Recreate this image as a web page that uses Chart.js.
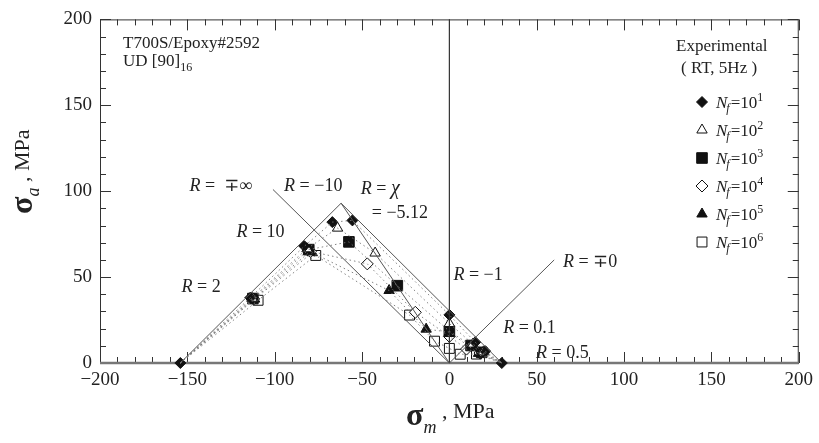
<!DOCTYPE html>
<html>
<head>
<meta charset="utf-8">
<script src="https://cdn.jsdelivr.net/npm/chart.js@4.4.1/dist/chart.umd.min.js"></script>
<style>
  html, body { margin: 0; padding: 0; background: #fff; }
  #wrap { width: 819px; height: 443px; }
</style>
</head>
<body>
<div id="wrap"><canvas id="chart" width="819" height="443"></canvas></div>
<script>
// static strengths (compression, tension), sigma_a = 0
var staticSm = [-154, 30];
var staticSa = [0, 0];

// test series, ordered by R = 2, 10, -10, chi, -1, 0.1, 0.5
var rLabels = ['2', '10', '-10', 'χ', '-1', '0.1', '0.5'];

var nf1Sm = [-114, -83, -67, -55.5, 0, 14.8, 20.5];
var nf1Sa = [38, 68, 82, 83, 28, 12.1, 6.9];
var nf2Sm = [-113, -81.5, -64, -42.5, 0, 13.5, 19.5];
var nf2Sa = [37.7, 66.5, 78.5, 64, 23, 11, 6.5];
var nf3Sm = [-112.5, -80.5, -57.5, -29.8, 0, 12.4, 18.5];
var nf3Sa = [37.5, 66, 70.5, 45, 18.5, 10.2, 6.2];
var nf4Sm = [-112, -79.5, -47, -19.5, 0, 9.8, 17.5];
var nf4Sa = [37.3, 65, 57.7, 29.5, 15.5, 8.1, 5.8];
var nf5Sm = [-111.5, -78.5, -34.5, -13.3, 0, 11.5, 16.7];
var nf5Sa = [37.2, 64.2, 42.2, 19.7, 18, 9.4, 5.6];
var nf6Sm = [-109.5, -76.5, -22.8, -8.5, 0, 6.2, 15.5];
var nf6Sa = [36.5, 62.6, 27.9, 12.7, 8.5, 5.1, 5.2];
var nfExp = ['1', '2', '3', '4', '5', '6'];

// envelope and R = const lines
var envSm = [-154, -62, 30];
var envSa = [0, 93, 0];
var rInfSm = [0, -101];   // R = -+inf
var rInfSa = [0, 101];
var rChiSm = [0, -62];    // R = chi
var rChiSa = [0, 93];
var rM1Sm = [0, 0];       // R = -1
var rM1Sa = [0, 200];
var rZeroSm = [0, 60];    // R = -+0
var rZeroSa = [0, 60];

var xTicks = [-200, 200, 50];
var yTicks = [0, 200, 50];

var SERIF = '"Liberation Serif", "DejaVu Serif", serif';
var INK = '#222';

var marks = [
  { style: 'rectRot', fill: '#111', r: 5.5 },
  { style: 'triangle', fill: '#fff', r: 6 },
  { style: 'rect', fill: '#111', r: 7.5 },
  { style: 'rectRot', fill: '#fff', r: 6 },
  { style: 'triangle', fill: '#111', r: 6 },
  { style: 'rect', fill: '#fff', r: 7 }
];

function pts(xs, ys) {
  return xs.map(function(x, i) { return { x: x, y: ys[i] }; });
}

function lineSet(xs, ys, color, width, dash) {
  return {
    type: 'line', data: pts(xs, ys), showLine: true, clip: false,
    borderColor: color, borderWidth: width, borderDash: dash || [],
    pointRadius: 0, fill: false, tension: 0
  };
}

var nfSm = [nf1Sm, nf2Sm, nf3Sm, nf4Sm, nf5Sm, nf6Sm];
var nfSa = [nf1Sa, nf2Sa, nf3Sa, nf4Sa, nf5Sa, nf6Sa];

var datasets = [];
// constant life lines (dotted)
nfSm.forEach(function(sm, i) {
  var xs = [staticSm[0]].concat(sm, [staticSm[1]]);
  var ys = [staticSa[0]].concat(nfSa[i], [staticSa[1]]);
  datasets.push(lineSet(xs, ys, '#777', 0.9, [1.5, 3]));
});
datasets.push(lineSet(envSm, envSa, '#555', 1));
datasets.push(lineSet(rInfSm, rInfSa, '#555', 1));
datasets.push(lineSet(rChiSm, rChiSa, '#555', 1));
datasets.push(lineSet(rM1Sm, rM1Sa, '#333', 1.2));
datasets.push(lineSet(rZeroSm, rZeroSa, '#555', 1));

datasets.push({
  data: pts(staticSm, staticSa), clip: false,
  pointStyle: 'rectRot', pointRadius: 5.5,
  pointBackgroundColor: '#111', pointBorderColor: '#111', pointBorderWidth: 1
});
nfSm.forEach(function(sm, i) {
  var m = marks[i];
  datasets.push({
    data: pts(sm, nfSa[i]), clip: false,
    pointStyle: m.style, pointRadius: m.r,
    pointBackgroundColor: m.fill, pointBorderColor: '#111', pointBorderWidth: 1
  });
});

function fmt(v) {
  return v < 0 ? '\u2212' + Math.abs(v) : '' + v;
}

// annotations in data coordinates
var notes = [
  { r: true, txt: ' =  \u2213\u221e', x: -148.7, y: 100 },
  { r: true, txt: ' = \u221210', x: -94.6, y: 100 },
  { r: true, txt: ' = ', chi: true, x: -50.7, y: 98.3 },
  { r: false, txt: '= \u22125.12', x: -44.4, y: 84.4 },
  { r: true, txt: ' = 10', x: -121.9, y: 73.4 },
  { r: true, txt: ' = 2', x: -153.3, y: 41.6 },
  { r: true, txt: ' = \u22121', x: 2.3, y: 48.6 },
  { r: true, txt: ' = \u22130', x: 65, y: 56 },
  { r: true, txt: ' = 0.1', x: 30.8, y: 17.3 },
  { r: true, txt: ' = 0.5', x: 49.6, y: 2.9 }
];

function drawMark(ctx, m, x, y) {
  ctx.save();
  ctx.fillStyle = m.fill;
  ctx.strokeStyle = '#111';
  ctx.lineWidth = 1;
  Chart.helpers.drawPoint(ctx, { pointStyle: m.style, radius: m.r, rotation: 0, borderWidth: 1 }, x, y);
  ctx.restore();
}

var framePlugin = {
  id: 'frame',
  beforeDatasetsDraw: function(chart) {
    var ctx = chart.ctx, a = chart.chartArea;
    var xs = chart.scales.x, ys = chart.scales.y;
    ctx.save();
    ctx.strokeStyle = '#333';
    ctx.lineWidth = 1;
    ctx.strokeRect(a.left + 0.5, a.top + 0.5, a.right - a.left - 1, a.bottom - a.top);
    ctx.beginPath();
    for (var v = -200; v <= 200; v += 10) {
      var px = Math.round(xs.getPixelForValue(v)) + 0.5;
      var len = v % 50 === 0 ? 11 : 6;
      ctx.moveTo(px, a.bottom); ctx.lineTo(px, a.bottom - len);
      ctx.moveTo(px, a.top); ctx.lineTo(px, a.top + len);
    }
    for (var w = 0; w <= 200; w += 10) {
      var py = Math.round(ys.getPixelForValue(w)) + 0.5;
      var l2 = w % 50 === 0 ? 11 : 6;
      ctx.moveTo(a.left, py); ctx.lineTo(a.left + l2, py);
      ctx.moveTo(a.right, py); ctx.lineTo(a.right - l2, py);
    }
    ctx.stroke();
    ctx.strokeStyle = '#777';
    ctx.lineWidth = 2.5;
    ctx.beginPath();
    ctx.moveTo(a.left, a.bottom); ctx.lineTo(a.right, a.bottom);
    ctx.stroke();
    ctx.restore();
  },
  afterDraw: function(chart) {
    var ctx = chart.ctx;
    var xs = chart.scales.x, ys = chart.scales.y;
    ctx.save();
    ctx.fillStyle = INK;
    ctx.textBaseline = 'alphabetic';
    ctx.textAlign = 'left';

    // R labels
    notes.forEach(function(n) {
      var x = xs.getPixelForValue(n.x), y = ys.getPixelForValue(n.y);
      if (n.r) {
        ctx.font = 'italic 18px ' + SERIF;
        ctx.fillText('R', x, y);
        x += ctx.measureText('R').width;
      }
      ctx.font = '18px ' + SERIF;
      ctx.fillText(n.txt, x, y);
      if (n.chi) {
        x += ctx.measureText(n.txt).width;
        ctx.font = 'italic 20px ' + SERIF;
        ctx.fillText('\u03c7', x, y);
      }
    });

    // material box
    ctx.font = '17px ' + SERIF;
    ctx.fillText('T700S/Epoxy#2592', 123, 48);
    ctx.fillText('UD [90]', 123, 66);
    var uw = ctx.measureText('UD [90]').width;
    ctx.font = '12px ' + SERIF;
    ctx.fillText('16', 123 + uw, 71);

    // legend
    ctx.font = '17px ' + SERIF;
    ctx.fillText('Experimental', 676, 51);
    ctx.fillText('( RT, 5Hz )', 681, 73);
    marks.forEach(function(m, i) {
      var cy = 102 + 28 * i;
      drawMark(ctx, m, 702, cy);
      var x = 716, y = cy + 6;
      ctx.fillStyle = INK;
      ctx.font = 'italic 17px ' + SERIF;
      ctx.fillText('N', x, y);
      x += ctx.measureText('N').width - 1;
      ctx.font = 'italic 12px ' + SERIF;
      ctx.fillText('f', x, y + 4);
      x += ctx.measureText('f').width + 1;
      ctx.font = '17px ' + SERIF;
      ctx.fillText('=10', x, y);
      x += ctx.measureText('=10').width;
      ctx.font = '12px ' + SERIF;
      ctx.fillText(nfExp[i], x, y - 7);
    });

    // x axis title
    var tx = 406;
    ctx.font = 'bold 32px ' + SERIF;
    ctx.fillText('\u03c3', tx, 425);
    tx += ctx.measureText('\u03c3').width;
    ctx.font = 'italic 18px ' + SERIF;
    ctx.fillText('m', tx, 433);
    tx += ctx.measureText('m').width;
    ctx.font = '22px ' + SERIF;
    ctx.fillText(' , MPa', tx, 418);

    // y axis title
    ctx.translate(32, 214);
    ctx.rotate(-Math.PI / 2);
    var ty = 0;
    ctx.font = 'bold 32px ' + SERIF;
    ctx.fillText('\u03c3', ty, 0);
    ty += ctx.measureText('\u03c3').width;
    ctx.font = 'italic 18px ' + SERIF;
    ctx.fillText('a', ty, 7);
    ty += ctx.measureText('a').width;
    ctx.font = '22px ' + SERIF;
    ctx.fillText(' , MPa', ty, -3);
    ctx.restore();
  }
};

var tickFont = { family: SERIF, size: 19 };

new Chart(document.getElementById('chart').getContext('2d'), {
  type: 'scatter',
  data: { datasets: datasets },
  options: {
    responsive: false,
    animation: false,
    devicePixelRatio: 1,
    layout: { padding: { top: 17, right: 17, left: 0, bottom: 0 } },
    plugins: { legend: { display: false }, tooltip: { enabled: false } },
    scales: {
      x: {
        type: 'linear', min: xTicks[0], max: xTicks[1],
        afterFit: function(s) { s.height = 80; },
        grid: { display: false, drawTicks: false },
        border: { display: false },
        ticks: { stepSize: xTicks[2], padding: 6, color: INK, font: tickFont, maxRotation: 0, callback: fmt }
      },
      y: {
        type: 'linear', min: yTicks[0], max: yTicks[1],
        afterFit: function(s) { s.width = 100; },
        grid: { display: false, drawTicks: false },
        border: { display: false },
        ticks: { stepSize: yTicks[2], padding: 8, color: INK, font: tickFont, callback: fmt }
      }
    }
  },
  plugins: [framePlugin]
});
</script>
</body>
</html>
